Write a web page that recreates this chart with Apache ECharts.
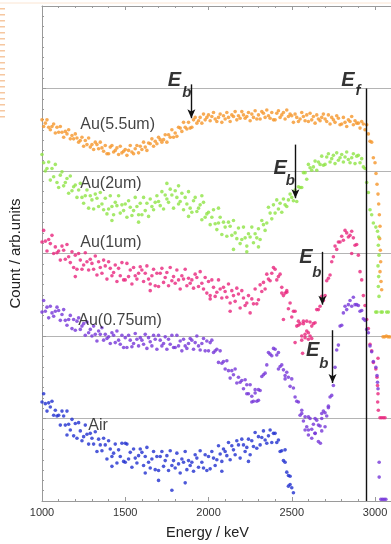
<!DOCTYPE html>
<html>
<head>
<meta charset="utf-8">
<script src="https://cdn.jsdelivr.net/npm/echarts@6/dist/echarts.min.js"></script>
<style>
  html, body { margin: 0; padding: 0; background: #fff; }
  #main { width: 391px; height: 544px; }
</style>
</head>
<body>
<div id="main"></div>
<script>
// energy channels (keV), 10 keV apart
const energy = [
  1000, 1010, 1020, 1030, 1040, 1050, 1060, 1070, 1080, 1090,
  1100, 1110, 1120, 1130, 1140, 1150, 1160, 1170, 1180, 1190,
  1200, 1210, 1220, 1230, 1240, 1250, 1260, 1270, 1280, 1290,
  1300, 1310, 1320, 1330, 1340, 1350, 1360, 1370, 1380, 1390,
  1400, 1410, 1420, 1430, 1440, 1450, 1460, 1470, 1480, 1490,
  1500, 1510, 1520, 1530, 1540, 1550, 1560, 1570, 1580, 1590,
  1600, 1610, 1620, 1630, 1640, 1650, 1660, 1670, 1680, 1690,
  1700, 1710, 1720, 1730, 1740, 1750, 1760, 1770, 1780, 1790,
  1800, 1810, 1820, 1830, 1840, 1850, 1860, 1870, 1880, 1890,
  1900, 1910, 1920, 1930, 1940, 1950, 1960, 1970, 1980, 1990,
  2000, 2010, 2020, 2030, 2040, 2050, 2060, 2070, 2080, 2090,
  2100, 2110, 2120, 2130, 2140, 2150, 2160, 2170, 2180, 2190,
  2200, 2210, 2220, 2230, 2240, 2250, 2260, 2270, 2280, 2290,
  2300, 2310, 2320, 2330, 2340, 2350, 2360, 2370, 2380, 2390,
  2400, 2410, 2420, 2430, 2440, 2450, 2460, 2470, 2480, 2490,
  2500, 2510, 2520, 2530, 2540, 2550, 2560, 2570, 2580, 2590,
  2600, 2610, 2620, 2630, 2640, 2650, 2660, 2670, 2680, 2690,
  2700, 2710, 2720, 2730, 2740, 2750, 2760, 2770, 2780, 2790,
  2800, 2810, 2820, 2830, 2840, 2850, 2860, 2870, 2880, 2890,
  2900, 2910, 2920, 2930, 2940, 2950, 2960, 2970, 2980, 2990
];

// Au(5.5um)
const au55 = [
  4.62, 4.54, 4.58, 4.62, 4.53, 4.50, 4.54, 4.57, 4.46, 4.53,
  4.47, 4.54, 4.47, 4.41, 4.48, 4.45, 4.50, 4.39, 4.43, 4.39,
  4.45, 4.40, 4.35, 4.37, 4.41, 4.30, 4.37, 4.32, 4.40, 4.29,
  4.32, 4.26, 4.35, 4.32, 4.27, 4.35, 4.28, 4.24, 4.31, 4.21,
  4.21, 4.29, 4.31, 4.23, 4.25, 4.28, 4.20, 4.30, 4.22, 4.24,
  4.26, 4.19, 4.25, 4.31, 4.23, 4.21, 4.27, 4.31, 4.22, 4.30,
  4.26, 4.35, 4.29, 4.25, 4.34, 4.33, 4.39, 4.30, 4.36, 4.33,
  4.41, 4.38, 4.35, 4.38, 4.44, 4.35, 4.44, 4.41, 4.50, 4.41,
  4.46, 4.42, 4.53, 4.52, 4.48, 4.59, 4.53, 4.51, 4.59, 4.52,
  4.53, 4.62, 4.65, 4.58, 4.61, 4.65, 4.58, 4.69, 4.62, 4.65,
  4.68, 4.61, 4.66, 4.71, 4.63, 4.60, 4.65, 4.69, 4.59, 4.67,
  4.63, 4.71, 4.65, 4.60, 4.68, 4.66, 4.72, 4.62, 4.67, 4.64,
  4.72, 4.68, 4.64, 4.66, 4.71, 4.61, 4.69, 4.65, 4.73, 4.63,
  4.68, 4.63, 4.72, 4.70, 4.65, 4.74, 4.67, 4.64, 4.71, 4.62,
  4.62, 4.70, 4.73, 4.65, 4.68, 4.71, 4.63, 4.74, 4.66, 4.69,
  4.67, 4.59, 4.69, 4.65, 4.60, 4.63, 4.71, 4.66, 4.61, 4.68,
  4.60, 4.70, 4.62, 4.66, 4.58, 4.68, 4.63, 4.61, 4.65, 4.69,
  4.63, 4.60, 4.68, 4.57, 4.65, 4.62, 4.59, 4.67, 4.64, 4.56,
  4.57, 4.65, 4.59, 4.54, 4.62, 4.60, 4.66, 4.56, 4.61, 4.58,
  4.58, 4.52, 4.60, 4.57, 4.50, 4.56, 4.45, 4.36, 4.35, 4.16
];
const au55Tail = [
  [3000, 4.10], [3006, 3.97], [3012, 3.84], [3018, 3.72], [3022, 3.60],
  [3026, 3.47], [3030, 3.33], [3028, 3.18], [3032, 3.04], [3034, 2.90],
  [3030, 2.78], [3036, 2.66], [3040, 2.56],
  [3048, 1.99], [3058, 1.99], [3068, 2.00], [3078, 1.99], [3088, 1.99]
];

// Au(2um)
const au2 = [
  4.20, 4.10, 4.00, 4.03, 4.11, 3.89, 4.03, 3.93, 4.08, 3.86,
  3.80, 3.95, 3.99, 3.82, 3.86, 3.91, 3.73, 3.94, 3.76, 3.81,
  3.83, 3.68, 3.77, 3.85, 3.68, 3.61, 3.70, 3.77, 3.55, 3.70,
  3.65, 3.54, 3.72, 3.67, 3.57, 3.74, 3.60, 3.53, 3.67, 3.48,
  3.54, 3.70, 3.57, 3.47, 3.62, 3.58, 3.70, 3.49, 3.59, 3.52,
  3.60, 3.44, 3.64, 3.56, 3.46, 3.52, 3.68, 3.57, 3.47, 3.61,
  3.47, 3.68, 3.52, 3.61, 3.45, 3.66, 3.57, 3.53, 3.62, 3.70,
  3.63, 3.58, 3.75, 3.54, 3.71, 3.66, 3.62, 3.78, 3.71, 3.55,
  3.76, 3.68, 3.60, 3.63, 3.73, 3.53, 3.68, 3.60, 3.75, 3.55,
  3.50, 3.64, 3.68, 3.51, 3.55, 3.59, 3.41, 3.62, 3.44, 3.48,
  3.50, 3.35, 3.44, 3.53, 3.36, 3.29, 3.37, 3.44, 3.23, 3.38,
  3.32, 3.21, 3.38, 3.33, 3.22, 3.40, 3.25, 3.18, 3.31, 3.12,
  3.17, 3.32, 3.19, 3.09, 3.24, 3.20, 3.32, 3.13, 3.24, 3.19,
  3.30, 3.17, 3.40, 3.35, 3.28, 3.37, 3.56, 3.49, 3.42, 3.59,
  3.49, 3.65, 3.54, 3.61, 3.50, 3.66, 3.59, 3.57, 3.65, 3.72,
  3.68, 3.64, 3.77, 3.63, 3.81, 3.80, 3.80, 3.98, 3.98, 3.90,
  4.08, 4.04, 4.01, 4.05, 4.12, 4.01, 4.11, 4.08, 4.18, 4.07,
  4.08, 4.17, 4.21, 4.11, 4.15, 4.19, 4.09, 4.22, 4.13, 4.16,
  4.20, 4.11, 4.17, 4.23, 4.14, 4.10, 4.16, 4.21, 4.09, 4.18,
  4.19, 4.10, 4.15, 4.05, 4.03, 3.86, 3.74, 3.53, 3.47, 3.37
];
const au2Tail = [
  [1750, 3.85], [1820, 3.82], [1880, 3.45], [2060, 3.55], [2150, 3.05],
  [2230, 3.02], [2300, 3.08], [1420, 3.40], [1580, 3.38], [1960, 3.70],
  [3005, 3.32], [3015, 3.27], [3022, 3.20], [3020, 3.10], [3024, 2.98],
  [3018, 2.85], [3022, 2.72], [3020, 2.60], [3024, 2.48],
  [3004, 2.29], [3012, 2.29], [3036, 2.29], [3044, 2.29], [3070, 2.29], [3080, 2.29]
];

// Au(1um)
const au1 = [
  3.14, 3.28, 3.15, 3.03, 3.17, 3.12, 3.22, 3.00, 3.08, 3.01,
  3.03, 2.92, 3.09, 3.04, 2.93, 3.11, 2.96, 2.89, 3.02, 2.83,
  2.98, 2.81, 3.00, 2.92, 2.81, 2.86, 3.01, 2.90, 2.80, 2.93,
  2.88, 2.81, 2.97, 2.74, 2.90, 2.83, 2.76, 2.92, 2.85, 2.69,
  2.90, 2.82, 2.73, 2.77, 2.86, 2.66, 2.82, 2.73, 2.89, 2.68,
  2.68, 2.88, 2.72, 2.80, 2.63, 2.83, 2.73, 2.69, 2.76, 2.84,
  2.80, 2.66, 2.76, 2.85, 2.69, 2.63, 2.73, 2.81, 2.61, 2.76,
  2.60, 2.76, 2.82, 2.65, 2.71, 2.77, 2.61, 2.83, 2.67, 2.72,
  2.64, 2.80, 2.68, 2.57, 2.73, 2.69, 2.81, 2.61, 2.70, 2.64,
  2.68, 2.58, 2.75, 2.71, 2.60, 2.78, 2.64, 2.57, 2.71, 2.52,
  2.66, 2.49, 2.68, 2.59, 2.48, 2.53, 2.68, 2.57, 2.46, 2.59,
  2.54, 2.47, 2.63, 2.40, 2.55, 2.49, 2.42, 2.58, 2.51, 2.34,
  2.55, 2.46, 2.37, 2.40, 2.49, 2.28, 2.45, 2.39, 2.57, 2.39,
  2.44, 2.62, 2.54, 2.65, 2.57, 2.75, 2.69, 2.67, 2.76, 2.83,
  2.81, 2.68, 2.72, 2.75, 2.59, 2.49, 2.52, 2.53, 2.33, 2.40,
  2.23, 2.30, 2.30, 2.12, 2.13, 2.15, 2.00, 2.15, 2.02, 2.06,
  2.04, 2.00, 2.12, 2.15, 2.16, 2.32, 2.32, 2.36, 2.48, 2.43,
  2.49, 2.67, 2.70, 2.74, 2.90, 2.96, 3.09, 3.05, 3.14, 3.14,
  3.21, 3.16, 3.28, 3.25, 3.20, 3.22, 3.27, 3.19, 3.10, 3.11,
  2.98, 2.78, 2.68, 2.49, 2.37, 2.20, 2.09, 1.90, 1.82, 1.68
];
const au1Tail = [
  [1200, 2.72], [1650, 2.55], [2010, 2.45], [2130, 2.30], [2450, 2.20],
  [2470, 2.55], [2520, 1.92], [2540, 2.18], [2560, 1.95], [2570, 2.18],
  [2580, 1.98], [2590, 2.18], [2600, 1.96], [2610, 2.17], [2620, 1.97],
  [2565, 1.79], [2440, 2.52], [2860, 3.00],
  [3005, 1.60], [3012, 1.50], [3015, 1.40], [3018, 1.30], [3016, 1.20],
  [3020, 1.10], [3018, 1.73],
  [3030, 1.01], [3040, 1.01], [3050, 1.01], [3060, 1.01]
];

// Au(0.75um)
const au075 = [
  2.29, 2.43, 2.30, 2.35, 2.22, 2.36, 2.28, 2.24, 2.30, 2.35,
  2.31, 2.19, 2.26, 2.32, 2.19, 2.13, 2.20, 2.25, 2.09, 2.20,
  2.07, 2.18, 2.22, 2.08, 2.12, 2.15, 2.01, 2.17, 2.04, 2.08,
  2.00, 2.12, 2.02, 1.94, 2.06, 2.02, 2.10, 1.95, 2.02, 1.97,
  1.99, 1.91, 2.04, 2.01, 1.92, 2.06, 1.95, 1.90, 2.01, 1.86,
  1.98, 1.86, 2.01, 1.95, 1.87, 1.91, 2.03, 1.96, 1.88, 1.98,
  1.95, 1.90, 2.02, 1.85, 1.98, 1.93, 1.88, 2.01, 1.96, 1.84,
  2.01, 1.95, 1.88, 1.91, 1.99, 1.84, 1.96, 1.90, 2.01, 1.86,
  1.86, 2.01, 1.88, 1.94, 1.82, 1.96, 1.88, 1.85, 1.91, 1.97,
  1.95, 1.84, 1.92, 2.00, 1.88, 1.83, 1.91, 1.97, 1.82, 1.94,
  1.82, 1.92, 1.95, 1.80, 1.82, 1.84, 1.68, 1.82, 1.67, 1.69,
  1.60, 1.70, 1.58, 1.49, 1.58, 1.53, 1.60, 1.43, 1.50, 1.44,
  1.46, 1.36, 1.47, 1.41, 1.30, 1.41, 1.27, 1.21, 1.31, 1.21,
  1.35, 1.34, 1.51, 1.53, 1.55, 1.65, 1.80, 1.78, 1.76, 1.85,
  1.84, 1.77, 1.80, 1.63, 1.65, 1.59, 1.52, 1.56, 1.50, 1.39,
  1.48, 1.37, 1.26, 1.21, 1.20, 1.04, 1.06, 0.97, 1.02, 0.90,
  0.86, 1.00, 0.87, 0.93, 0.82, 0.98, 0.92, 0.91, 1.00, 1.09,
  1.07, 1.03, 1.13, 1.26, 1.28, 1.40, 1.62, 1.83, 1.89, 2.12,
  2.13, 2.28, 2.36, 2.32, 2.38, 2.43, 2.36, 2.47, 2.38, 2.38,
  2.37, 2.30, 2.31, 2.21, 2.19, 2.08, 2.04, 1.88, 1.81, 1.69
];
const au075Tail = [
  [2560, 1.10], [2580, 0.86], [2600, 0.80], [2620, 0.76], [2640, 0.82],
  [2660, 0.72], [2680, 0.85], [2700, 0.90], [2720, 1.15], [2600, 1.02],
  [2640, 1.00], [2680, 1.06], [2672, 0.70], [2230, 1.30], [2260, 1.20],
  [2280, 1.35], [2300, 1.22], [2420, 1.60], [2460, 1.48],
  [3005, 1.62], [3012, 1.52], [3015, 1.44], [3018, 1.36], [3025, 0.47],
  [3025, 0.29], [3035, 0.02], [3045, 0.02], [3055, 0.02], [3065, 0.02]
];

// Air
const air = [
  1.20, 1.30, 1.18, 1.09, 1.19, 1.14, 1.21, 1.04, 1.10, 1.03,
  1.04, 0.92, 1.09, 1.03, 0.92, 1.09, 0.93, 0.86, 0.99, 0.79,
  0.94, 0.76, 0.95, 0.85, 0.73, 0.78, 0.92, 0.81, 0.69, 0.82,
  0.76, 0.69, 0.84, 0.60, 0.75, 0.68, 0.61, 0.76, 0.68, 0.51,
  0.73, 0.63, 0.54, 0.58, 0.69, 0.46, 0.62, 0.54, 0.70, 0.48,
  0.47, 0.69, 0.51, 0.59, 0.41, 0.63, 0.52, 0.46, 0.55, 0.63,
  0.59, 0.43, 0.54, 0.65, 0.47, 0.40, 0.51, 0.60, 0.38, 0.54,
  0.37, 0.54, 0.60, 0.42, 0.49, 0.55, 0.37, 0.61, 0.43, 0.49,
  0.40, 0.58, 0.45, 0.34, 0.51, 0.47, 0.60, 0.38, 0.49, 0.43,
  0.47, 0.36, 0.56, 0.52, 0.41, 0.61, 0.47, 0.40, 0.56, 0.37,
  0.54, 0.39, 0.60, 0.52, 0.43, 0.50, 0.67, 0.57, 0.48, 0.63,
  0.60, 0.55, 0.71, 0.50, 0.67, 0.62, 0.56, 0.73, 0.68, 0.52,
  0.75, 0.68, 0.60, 0.65, 0.75, 0.56, 0.73, 0.66, 0.83, 0.64,
  0.78, 0.68, 0.77, 0.85, 0.74, 0.70, 0.79, 0.86, 0.71, 0.82,
  0.82, 0.71, 0.74, 0.60, 0.61, 0.49, 0.47, 0.35, 0.31, 0.20,
  0.16, 0.10
];
const airTail = [
  [1500, 0.70], [1700, 0.25], [1780, 0.13], [1860, 0.22], [1150, 0.80],
  [1420, 0.42], [1620, 0.34], [2080, 0.36], [2240, 0.48], [2460, 0.62],
  [2480, 0.18], [2490, 0.30]
];

// annotations: series names, arrows, E_f line
const seriesNames = [
  { text: 'Au(5.5um)', x: 1230, y: 4.56 },
  { text: 'Au(2um)', x: 1230, y: 3.85 },
  { text: 'Au(1um)', x: 1230, y: 3.13 },
  { text: 'Au(0.75um)', x: 1218, y: 2.19 },
  { text: 'Air', x: 1278, y: 0.92 }
];
// E_b arrows: x, yFrom, yTo; label E at (ex, ey), subscript at (bx, by)
const ebArrows = [
  { x: 1897, from: 5.05, to: 4.64, ex: 1795, ey: 5.10, bx: 1870, by: 4.95 },
  { x: 2522, from: 4.32, to: 3.67, ex: 2430, ey: 4.03, bx: 2492, by: 3.88 },
  { x: 2684, from: 3.02, to: 2.38, ex: 2585, ey: 2.95, bx: 2650, by: 2.77 },
  { x: 2745, from: 2.07, to: 1.43, ex: 2626, ey: 1.83, bx: 2693, by: 1.66 }
];
const ef = { x: 2950, top: 5, ex: 2838, ey: 5.10, fx: 2898, fy: 4.97 };

const colors = ['#f5962a', '#8fe345', '#e8267d', '#7636d8', '#2030d0'];
const font = 'Liberation Sans, Arial, sans-serif';

function pts(ys, tail) {
  return ys.map((v, i) => [energy[i], v]).concat(tail);
}

function letter(x, y, t, size) {
  return {
    value: [x, y],
    label: { show: true, position: 'inside', formatter: t, fontSize: size,
      fontWeight: 'bold', fontStyle: 'italic', color: '#000', fontFamily: font }
  };
}

const labelItems = [];
seriesNames.forEach(s => {
  labelItems.push({
    value: [s.x, s.y],
    label: { show: true, position: 'right', distance: 0, formatter: s.text,
      fontSize: 16, color: '#111', fontFamily: font }
  });
});
ebArrows.forEach(a => {
  labelItems.push(letter(a.ex, a.ey, 'E', 20));
  labelItems.push(letter(a.bx, a.by, 'b', 15));
});
labelItems.push(letter(ef.ex, ef.ey, 'E', 20));
labelItems.push(letter(ef.fx, ef.fy, 'f', 15));

const arrowLines = ebArrows.map(a => [
  { coord: [a.x, a.from], symbol: 'none' },
  { coord: [a.x, a.to], symbol: 'arrow', symbolSize: [6, 9] }
]);
arrowLines.push([
  { coord: [ef.x, ef.top], symbol: 'none' },
  { coord: [ef.x, 0], symbol: 'none' }
]);

const chart = echarts.init(document.getElementById('main'));

const gray = '#9a9a9a';
const tails = [au55Tail, au2Tail, au1Tail, au075Tail, airTail];
const dotSeries = [au55, au2, au1, au075, air].map((ys, i) => ({
  type: 'scatter',
  symbolSize: 3.6,
  itemStyle: { color: colors[i] },
  data: pts(ys, tails[i]),
  z: 2
}));

chart.setOption({
  animation: false,
  backgroundColor: '#fff',
  grid: { left: 42, right: 0, top: 6, bottom: 43 },
  xAxis: [
    {
      type: 'value', min: 1000, max: 3096, interval: 500,
      axisLine: { lineStyle: { color: gray } },
      axisTick: { inside: true, length: 4, lineStyle: { color: gray } },
      minorTick: { show: true, splitNumber: 5, length: 2, lineStyle: { color: gray } },
      splitLine: { show: false },
      axisLabel: { color: '#333', fontSize: 11, margin: 6, fontFamily: font,
        formatter: v => String(v) }
    },
    {
      type: 'value', position: 'top', min: 1000, max: 3096, interval: 500,
      axisLine: { lineStyle: { color: gray } },
      axisTick: { inside: true, length: 4, lineStyle: { color: gray } },
      minorTick: { show: true, splitNumber: 5, length: 2, lineStyle: { color: gray } },
      splitLine: { show: false },
      axisLabel: { show: false }
    }
  ],
  yAxis: {
    type: 'value', min: 0, max: 6, interval: 1,
    name: 'Count / arb.units',
    nameLocation: 'middle', nameGap: 19,
    nameTextStyle: { fontSize: 15, color: '#222', fontFamily: font },
    axisLine: { show: true, lineStyle: { color: gray } },
    axisTick: { inside: true, length: 4, lineStyle: { color: gray } },
    minorTick: { show: true, splitNumber: 8, length: 2, lineStyle: { color: gray } },
    splitLine: { show: true, lineStyle: { color: '#b4b4b4', width: 1 } },
    axisLabel: { show: false }
  },
  graphic: [
    { type: 'text', left: 166, top: 525,
      style: { text: 'Energy / keV', fontSize: 14.5, fill: '#222', fontFamily: font } },
    { type: 'line', shape: { x1: 2.5, y1: 8, x2: 2.5, y2: 118 },
      style: { stroke: '#f6c7a0', lineWidth: 5, lineDash: [1.5, 4.5] } },
    { type: 'line', shape: { x1: 0, y1: 3, x2: 391, y2: 3 },
      style: { stroke: '#fbe5d2', lineWidth: 1 } }
  ],
  series: dotSeries.concat([{
    type: 'scatter',
    symbolSize: 0,
    data: labelItems,
    z: 5,
    silent: true,
    markLine: {
      silent: true,
      animation: false,
      label: { show: false },
      lineStyle: { color: '#111', width: 1.4, type: 'solid' },
      data: arrowLines
    }
  }])
});
</script>
</body>
</html>
